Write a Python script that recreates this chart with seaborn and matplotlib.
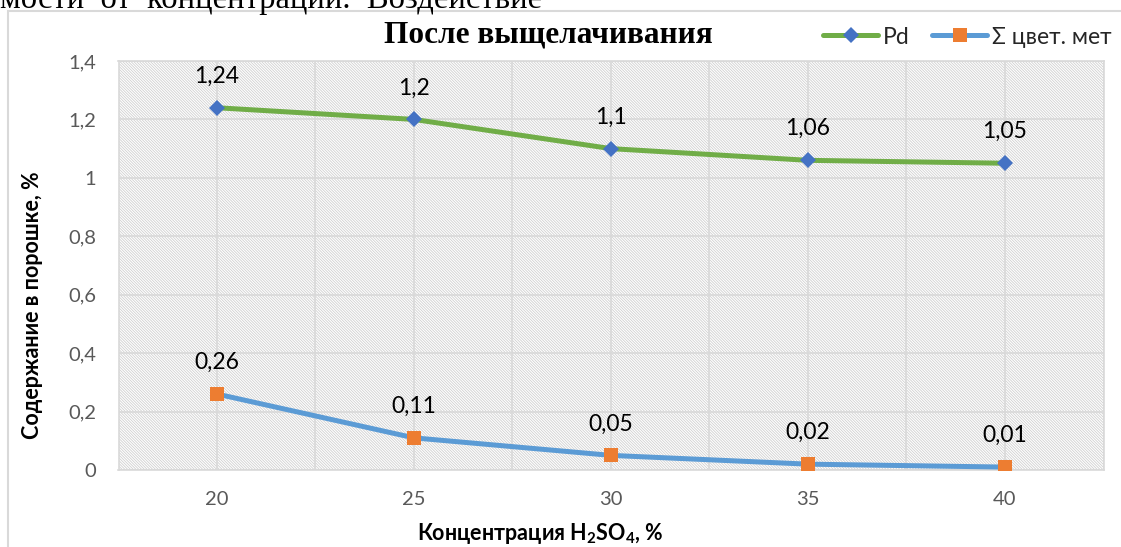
import matplotlib
matplotlib.use("Agg")
import matplotlib.pyplot as plt
from matplotlib.patches import Rectangle
from matplotlib.ticker import MultipleLocator, FixedLocator
import seaborn as sns
import pandas as pd

# Data
concentration = [20, 25, 30, 35, 40]
pd_content = [1.24, 1.20, 1.10, 1.06, 1.05]
nonferrous_content = [0.26, 0.11, 0.05, 0.02, 0.01]
series_names = ["Pd", "Σ цвет. мет"]
y_ticks = [0, 0.2, 0.4, 0.6, 0.8, 1.0, 1.2, 1.4]

sns.set_theme(style="white")
plt.rcParams["font.family"] = ["Lato", "DejaVu Sans"]
plt.rcParams["mathtext.default"] = "regular"
plt.rcParams["hatch.linewidth"] = 0.6
plt.rcParams["hatch.color"] = "#d0d0d0"

W, H = 1121, 547
fig = plt.figure(figsize=(W / 100, H / 100), dpi=100)
fig.patch.set_facecolor("white")

# plot area in pixel coordinates
px_left, px_right, px_top, px_bottom = 118.5, 1103.5, 61, 470
ax = fig.add_axes([px_left / W, 1 - px_bottom / H,
                   (px_right - px_left) / W, (px_bottom - px_top) / H])

ax.set_xlim(17.5, 42.5)
ax.set_ylim(0, 1.4)

# diagonal hatched background
ax.set_facecolor("white")
ax.add_patch(Rectangle((0, 0), 1, 1, transform=ax.transAxes, facecolor="none",
                       edgecolor="#d0d0d0", hatch="\\" * 12, lw=0, zorder=0))

df = pd.DataFrame({
    "x": concentration * 2,
    "y": pd_content + nonferrous_content,
    "series": [series_names[0]] * 5 + [series_names[1]] * 5,
})

line_colors = {series_names[0]: "#70AD47", series_names[1]: "#5B9BD5"}
marker_colors = {series_names[0]: "#4472C4", series_names[1]: "#ED7D31"}
marker_shapes = {series_names[0]: "D", series_names[1]: "s"}
marker_sizes = {series_names[0]: 8, series_names[1]: 9.5}

for name in series_names:
    sub = df[df["series"] == name]
    sns.lineplot(data=sub, x="x", y="y", ax=ax, color=line_colors[name], lw=3.6,
                 marker=marker_shapes[name], markersize=marker_sizes[name],
                 markerfacecolor=marker_colors[name],
                 markeredgecolor=marker_colors[name], markeredgewidth=0,
                 label=name, zorder=3)
    for xv, yv in zip(sub["x"], sub["y"]):
        ax.annotate(f"{yv:g}".replace(".", ","), (xv, yv), xytext=(0, 18),
                    textcoords="offset points", ha="center", va="baseline",
                    fontsize=16.5, color="black", zorder=4)

# grid
ax.xaxis.set_major_locator(FixedLocator(concentration))
ax.xaxis.set_minor_locator(MultipleLocator(2.5))
ax.set_yticks(y_ticks)
ax.set_xticklabels([str(c) for c in concentration])
ax.set_yticklabels([f"{t:g}".replace(".", ",") for t in y_ticks])
ax.grid(True, which="both", axis="x", color="#d9d9d9", lw=1.2, zorder=1)
ax.grid(True, which="major", axis="y", color="#d9d9d9", lw=1.2, zorder=1)
ax.set_axisbelow(True)
for s in ax.spines.values():
    s.set_color("#d9d9d9")
    s.set_linewidth(1.2)
ax.tick_params(axis="both", which="both", length=0, labelsize=14.5,
               labelcolor="#595959")
ax.tick_params(axis="x", pad=15)
ax.tick_params(axis="y", pad=16)
ax.set_xlabel("")
ax.set_ylabel("")

# axis titles
fig.text(540 / W, 1 - 540 / H, "Концентрация H$_2$SO$_4$, %", ha="center",
         va="baseline", fontsize=15.5, fontweight="bold", color="black")
fig.text(33 / W, 1 - 305 / H, "Содержание в порошке, %", ha="center",
         va="center", rotation=90, fontsize=15.5, fontweight="bold", color="black")

# chart title
fig.text(548 / W, 1 - 43 / H, "После выщелачивания", ha="center", va="baseline",
         fontsize=22.5, fontweight="bold", family="Liberation Serif", color="black")

# legend
handles, labels = ax.get_legend_handles_labels()
ax.legend(handles, labels, loc="center left",
          bbox_to_anchor=(823 / W, 1 - 37 / H), bbox_transform=fig.transFigure,
          ncol=2, frameon=False, fontsize=16.5, handlelength=2.4,
          handletextpad=0.2, columnspacing=1.0, borderpad=0, borderaxespad=0)

# chart frame
fig.add_artist(Rectangle((8 / W, -0.1), 1.2, 1.1 - 11 / H,
                         transform=fig.transFigure, facecolor="none",
                         edgecolor="#d9d9d9", lw=1.5))

# surrounding document text
fig.text(0, 1 - 8 / H, "мости  от  концентрации.  Воздействие", ha="left",
         va="baseline", fontsize=23.5, family="Liberation Serif", color="black")

fig.savefig("out.png", dpi=100, facecolor="white")
